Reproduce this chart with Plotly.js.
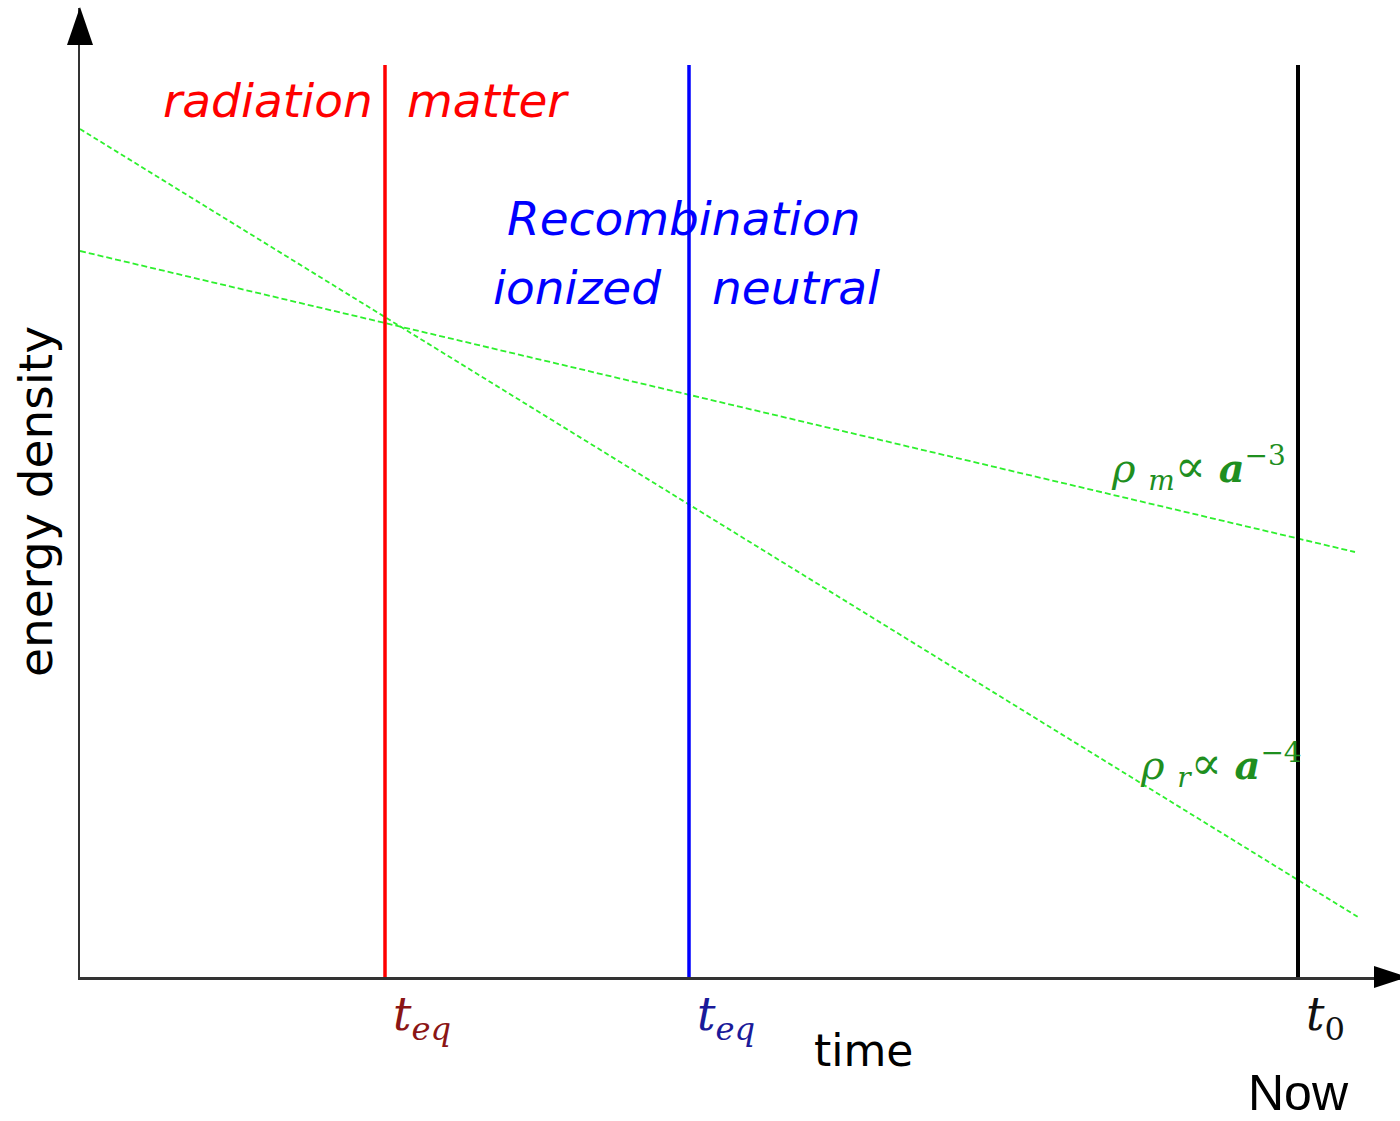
<!DOCTYPE html>
<html>
<head>
<meta charset="utf-8">
<script src="https://cdn.plot.ly/plotly-3.0.1.min.js"></script>
<style>html,body{margin:0;padding:0;background:#fff;}#chart{width:1400px;height:1121px;}</style>
</head>
<body>
<div id="chart"></div>
<script>
// ---- data (arbitrary units) ----
const lineTimes = [0, 1278];                 // time span of the radiation line
const radiationDensity = [848, 60];          // rho_r ∝ a^-4
const matterTimes = [0, 1275];
const matterDensity = [726, 425];            // rho_m ∝ a^-3
const eventNames = ['equality', 'recombination', 'now'];
const eventTimes = [305, 609, 1218];
const eventTop = [912, 912, 912];
const eventColors = ['#ff0000', '#0000ff', '#000000'];
const eventTickLabels = ['<i>t</i><sub><i>eq</i></sub>', '<i>t</i><sub><i>eq</i></sub>', '<i>t</i><sub>0</sub>'];
const eventTickColors = ['#8b1515', '#1a1a9a', '#111111'];
const xRange = [0, 1320];
const yRange = [0, 969];

const traces = [];
traces.push({x: lineTimes, y: radiationDensity, mode: 'lines', name: 'radiation',
  line: {color: '#2ef02e', width: 1.8, dash: '5px,3px'}, hoverinfo: 'skip'});
traces.push({x: matterTimes, y: matterDensity, mode: 'lines', name: 'matter',
  line: {color: '#2ef02e', width: 1.8, dash: '6px,3px'}, hoverinfo: 'skip'});
eventTimes.forEach((t, i) => {
  traces.push({x: [t, t], y: [0, eventTop[i]], mode: 'lines', name: eventNames[i],
    line: {color: eventColors[i], width: i === 2 ? 4 : 3.5}, hoverinfo: 'skip', cliponaxis: false});
});

const sansOblique = {family: 'DejaVu Sans', size: 47, style: 'italic'};
const plotW = xRange[1] - xRange[0], plotH = yRange[1] - yRange[0];
const prop = '<span style="font-size:46px">∝</span>';
const annotations = [
  {x: eventTimes[0], y: 877, text: 'radiation', xanchor: 'right', xshift: -10, font: Object.assign({color: '#ff0000'}, sansOblique)},
  {x: eventTimes[0], y: 877, text: 'matter', xanchor: 'left', xshift: 20, font: Object.assign({color: '#ff0000'}, sansOblique)},
  {x: eventTimes[1], y: 759, text: 'Recombination', xanchor: 'center', xshift: -6, font: Object.assign({color: '#0000ff'}, sansOblique)},
  {x: eventTimes[1], y: 690, text: 'ionized', xanchor: 'right', xshift: -25, font: Object.assign({color: '#0000ff'}, sansOblique)},
  {x: eventTimes[1], y: 690, text: 'neutral', xanchor: 'left', xshift: 21, font: Object.assign({color: '#0000ff'}, sansOblique)},
  {x: 1118, y: 509, text: '<i>ρ</i> <sub><i>m</i></sub>' + prop + ' <b><i>a</i></b><sup>−3</sup>', xanchor: 'center',
    font: {family: 'DejaVu Serif', size: 40, color: '#1f8f1f'}},
  {x: 1141, y: 212, text: '<i>ρ</i> <sub><i>r</i></sub>' + prop + ' <b><i>a</i></b><sup>−4</sup>', xanchor: 'center',
    font: {family: 'DejaVu Serif', size: 40, color: '#1f8f1f'}}
];
annotations.forEach(a => { a.xref = 'x'; a.yref = 'y'; });
// texts outside the plotting area are placed in paper coordinates
annotations.push(
  {xref: 'paper', yref: 'paper', x: 783 / plotW, y: -73 / plotH, text: 'time', xanchor: 'center', yanchor: 'middle',
   font: {family: 'DejaVu Sans', size: 44, color: '#000'}},
  {xref: 'paper', yref: 'paper', x: eventTimes[2] / plotW, y: -116 / plotH, text: 'Now', xanchor: 'center', yanchor: 'middle',
   borderpad: 0, font: {family: 'Liberation Sans', size: 50, color: '#000'}},
  {xref: 'paper', yref: 'paper', x: -44 / plotW, y: 475 / plotH, text: 'energy density', textangle: -90,
   xanchor: 'center', yanchor: 'middle', font: {family: 'DejaVu Sans', size: 47, color: '#000'}}
);
eventTimes.forEach((t, i) => {
  annotations.push({xref: 'x', yref: 'paper', x: t, y: 0, text: eventTickLabels[i], xanchor: 'left', yanchor: 'top',
    xshift: 6, yshift: -8, font: {family: 'DejaVu Serif', size: 46, color: eventTickColors[i]}});
});
annotations.forEach(a => { a.showarrow = false; });

const layout = {
  width: 1400, height: 1121,
  margin: {l: 80, r: 0, t: 8, b: 144},
  paper_bgcolor: '#ffffff', plot_bgcolor: '#ffffff',
  showlegend: false,
  xaxis: {range: xRange, showline: true, linecolor: '#333333', linewidth: 2.5, showgrid: false,
    zeroline: false, showticklabels: false, ticks: '', fixedrange: true},
  yaxis: {range: yRange, showline: true, linecolor: '#333333', linewidth: 2.5, showgrid: false,
    zeroline: false, showticklabels: false, ticks: '', fixedrange: true},
  annotations: annotations,
  shapes: [
    {type: 'path', xref: 'paper', yref: 'paper', xsizemode: 'pixel', ysizemode: 'pixel',
     xanchor: 0, yanchor: 1, path: 'M-13,-37 L13,-37 L0,1 Z', fillcolor: '#000', line: {width: 0}},
    {type: 'path', xref: 'paper', yref: 'paper', xsizemode: 'pixel', ysizemode: 'pixel',
     xanchor: 1, yanchor: 0, path: 'M-26,-11 L-26,11 L8,0 Z', fillcolor: '#000', line: {width: 0}}
  ]
};

Plotly.newPlot('chart', traces, layout, {staticPlot: true, displayModeBar: false});
</script>
</body>
</html>
